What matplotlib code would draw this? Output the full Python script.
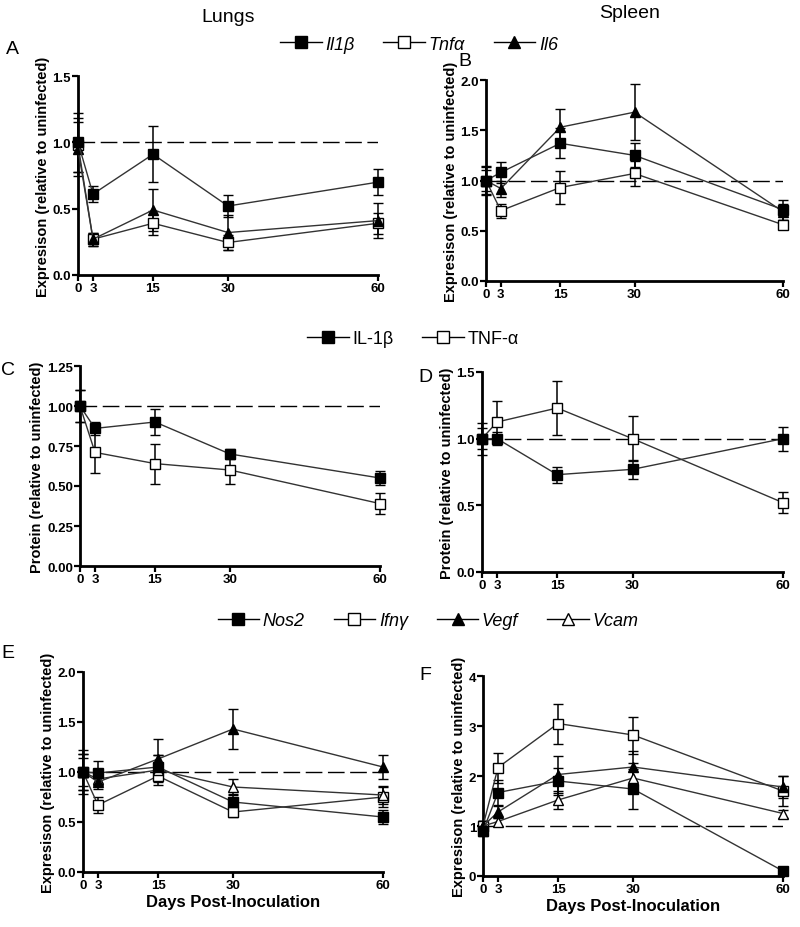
import matplotlib
matplotlib.use('Agg')
import matplotlib.pyplot as plt
from matplotlib.lines import Line2D

plt.rcParams['font.family'] = ['Liberation Sans', 'DejaVu Sans']

days = [0, 3, 15, 30, 60]

# A - lungs mRNA
a_il1b = [1.0, 0.61, 0.91, 0.52, 0.70]
a_il1b_err = [0.22, 0.06, 0.21, 0.08, 0.10]
a_tnfa = [0.98, 0.27, 0.39, 0.245, 0.39]
a_tnfa_err = [0.20, 0.05, 0.09, 0.06, 0.08]
a_il6 = [0.95, 0.27, 0.49, 0.32, 0.41]
a_il6_err = [0.20, 0.05, 0.16, 0.13, 0.13]

# B - spleen mRNA
b_il1b = [1.0, 1.08, 1.37, 1.25, 0.71]
b_il1b_err = [0.14, 0.10, 0.15, 0.12, 0.10]
b_tnfa = [1.0, 0.70, 0.93, 1.07, 0.56]
b_tnfa_err = [0.10, 0.07, 0.16, 0.12, 0.03]
b_il6 = [1.0, 0.92, 1.53, 1.68, 0.69]
b_il6_err = [0.13, 0.08, 0.18, 0.28, 0.08]

# C - lungs protein
c_il1b = [1.0, 0.86, 0.90, 0.70, 0.55]
c_il1b_err = [0.10, 0.04, 0.08, 0.03, 0.045]
c_tnfa = [1.0, 0.71, 0.64, 0.60, 0.39]
c_tnfa_err = [0.10, 0.13, 0.125, 0.09, 0.065]

# D - spleen protein
d_il1b = [1.0, 1.0, 0.73, 0.77, 1.0]
d_il1b_err = [0.08, 0.05, 0.06, 0.07, 0.09]
d_tnfa = [1.0, 1.125, 1.23, 1.0, 0.52]
d_tnfa_err = [0.12, 0.16, 0.20, 0.17, 0.08]

# E - lungs other genes
e_nos2 = [1.0, 0.99, 1.05, 0.70, 0.55]
e_nos2_err = [0.18, 0.12, 0.12, 0.08, 0.07]
e_ifng = [1.0, 0.67, 0.96, 0.60, 0.75]
e_ifng_err = [0.14, 0.08, 0.06, 0.05, 0.10]
e_vegf = [1.0, 0.90, 1.13, 1.43, 1.05]
e_vegf_err = [0.22, 0.07, 0.20, 0.20, 0.12]
e_vcam = [1.0, 0.93, 1.02, 0.85, 0.77]
e_vcam_err = [0.18, 0.06, 0.15, 0.08, 0.09]

# F - spleen other genes
f_nos2 = [0.9, 1.67, 1.90, 1.74, 0.10]
f_nos2_err = [0.10, 0.25, 0.27, 0.40, 0.05]
f_ifng = [1.0, 2.17, 3.05, 2.82, 1.70]
f_ifng_err = [0.10, 0.30, 0.40, 0.37, 0.30]
f_vegf = [1.0, 1.28, 2.03, 2.18, 1.78]
f_vegf_err = [0.10, 0.12, 0.37, 0.33, 0.22]
f_vcam = [1.0, 1.09, 1.52, 1.96, 1.25]
f_vcam_err = [0.10, 0.08, 0.18, 0.30, 0.08]

STY = {
    'fsq': dict(marker='s', mfc='black'),
    'osq': dict(marker='s', mfc='white'),
    'ftri': dict(marker='^', mfc='black'),
    'otri': dict(marker='^', mfc='white'),
}


def series(ax, y, err, kind):
    ax.errorbar(days, y, yerr=err, color='#333333', lw=1.0, ecolor='black',
                elinewidth=1.1, capsize=3.5, capthick=1.1, ms=6.8, mec='black',
                mew=1.0, clip_on=False, zorder=3, **STY[kind])


def setup(ax, ymax, yticks, ylabel, xlabel=False, fmt='%.1f'):
    ax.axhline(1.0, color='black', lw=1.0, dashes=(12, 4), zorder=1)
    ax.set_xlim(0, 60)
    ax.set_ylim(0, ymax)
    ax.set_xticks(days)
    ax.set_yticks(yticks)
    ax.set_yticklabels([fmt % t for t in yticks])
    for s in ['top', 'right']:
        ax.spines[s].set_visible(False)
    for s in ['left', 'bottom']:
        ax.spines[s].set_linewidth(2.0)
    ax.tick_params(width=1.6, length=4, labelsize=9.5, pad=1)
    for lab in ax.get_xticklabels() + ax.get_yticklabels():
        lab.set_fontweight('bold')
    ax.set_ylabel(ylabel, fontsize=10.5, fontweight='bold', labelpad=2)
    if xlabel:
        ax.set_xlabel('Days Post-Inoculation', fontsize=12, fontweight='bold', labelpad=2)


fig = plt.figure(figsize=(8, 9.28), dpi=100)
W, H = 800, 928


def add_ax(l, r, t, b):
    return fig.add_axes([l / W, 1 - b / H, (r - l) / W, (b - t) / H])


axA = add_ax(78, 378, 77, 276)
axB = add_ax(486, 783, 81, 282)
axC = add_ax(80, 380, 367, 567)
axD = add_ax(482, 783, 373, 573)
axE = add_ax(83, 383, 673, 873)
axF = add_ax(483, 783, 677, 877)

expr = 'Expresison (relative to uninfected)'
prot = 'Protein (relative to uninfected)'

series(axA, a_tnfa, a_tnfa_err, 'osq')
series(axA, a_il6, a_il6_err, 'ftri')
series(axA, a_il1b, a_il1b_err, 'fsq')
setup(axA, 1.5, [0, 0.5, 1.0, 1.5], expr)

series(axB, b_tnfa, b_tnfa_err, 'osq')
series(axB, b_il6, b_il6_err, 'ftri')
series(axB, b_il1b, b_il1b_err, 'fsq')
setup(axB, 2.0, [0, 0.5, 1.0, 1.5, 2.0], expr)

series(axC, c_tnfa, c_tnfa_err, 'osq')
series(axC, c_il1b, c_il1b_err, 'fsq')
setup(axC, 1.25, [0, 0.25, 0.5, 0.75, 1.0, 1.25], prot, fmt='%.2f')

series(axD, d_tnfa, d_tnfa_err, 'osq')
series(axD, d_il1b, d_il1b_err, 'fsq')
setup(axD, 1.5, [0, 0.5, 1.0, 1.5], prot)

series(axE, e_ifng, e_ifng_err, 'osq')
series(axE, e_vcam, e_vcam_err, 'otri')
series(axE, e_vegf, e_vegf_err, 'ftri')
series(axE, e_nos2, e_nos2_err, 'fsq')
setup(axE, 2.0, [0, 0.5, 1.0, 1.5, 2.0], expr, xlabel=True)

series(axF, f_ifng, f_ifng_err, 'osq')
series(axF, f_vcam, f_vcam_err, 'otri')
series(axF, f_vegf, f_vegf_err, 'ftri')
series(axF, f_nos2, f_nos2_err, 'fsq')
setup(axF, 4, [0, 1, 2, 3, 4], expr, xlabel=True, fmt='%d')

# titles and panel letters
fig.text(228 / W, 1 - 17 / H, 'Lungs', fontsize=14, ha='center', va='center')
fig.text(630 / W, 1 - 13 / H, 'Spleen', fontsize=14, ha='center', va='center')
for letter, x, y in [('A', 12, 50), ('B', 465, 62), ('C', 8, 371),
                     ('D', 425, 378), ('E', 8, 653), ('F', 425, 676)]:
    fig.text(x / W, 1 - y / H, letter, fontsize=14, ha='center', va='center')


def handle(kind):
    return Line2D([], [], color='black', lw=1.0, ms=8, mec='black', **STY[kind])


leg_kw = dict(loc='center', frameon=False, handlelength=2.3, handletextpad=0.2,
              columnspacing=1.6, borderpad=0)

fig.legend([handle('fsq'), handle('osq'), handle('ftri')],
           ['Il1β', 'Tnfα', 'Il6'], ncol=3, bbox_to_anchor=(419 / W, 1 - 45 / H),
           prop=dict(size=13, style='italic'), **leg_kw)
fig.legend([handle('fsq'), handle('osq')],
           ['IL-1β', 'TNF-α'], ncol=2, bbox_to_anchor=(413 / W, 1 - 340 / H),
           prop=dict(size=13), **leg_kw)
fig.legend([handle('fsq'), handle('osq'), handle('ftri'), handle('otri')],
           ['Nos2', 'Ifnγ', 'Vegf', 'Vcam'], ncol=4, bbox_to_anchor=(428 / W, 1 - 622 / H),
           prop=dict(size=13, style='italic'), **leg_kw)

fig.savefig('out.png', dpi=100)
